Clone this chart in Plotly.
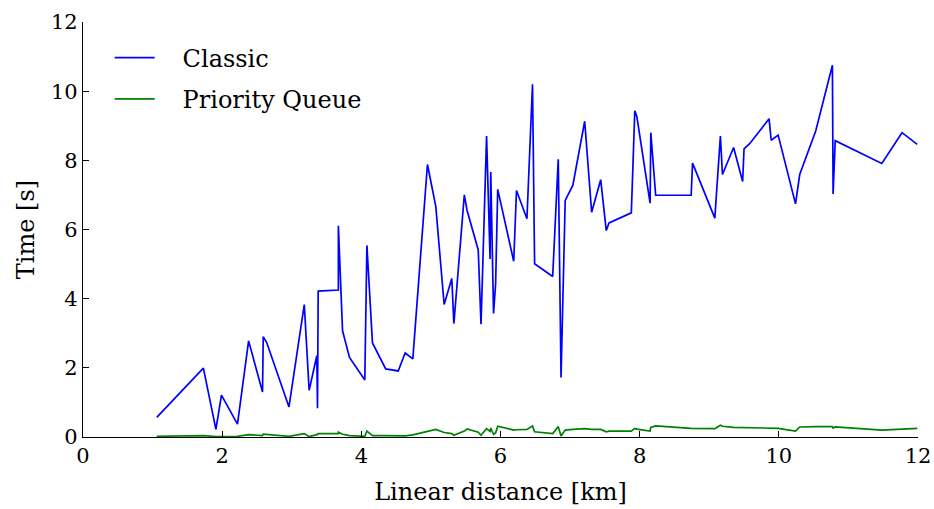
import plotly.graph_objects as go

# Linear distance of each query [km]
distance_km = [
    1.06, 1.73, 1.91, 1.99, 2.22, 2.38, 2.58, 2.59, 2.64, 2.96,
    3.18, 3.25, 3.36, 3.37, 3.38, 3.67, 3.67, 3.73, 3.83, 4.05,
    4.08, 4.16, 4.35, 4.53, 4.63, 4.74, 4.95, 5.07, 5.19, 5.30,
    5.33, 5.48, 5.52, 5.68, 5.72, 5.80, 5.85, 5.86, 5.90, 5.93,
    5.96, 6.19, 6.23, 6.38, 6.46, 6.49, 6.75, 6.83, 6.87, 6.93,
    7.04, 7.21, 7.31, 7.44, 7.52, 7.56, 7.88, 7.93, 7.96, 8.15,
    8.16, 8.23, 8.74, 8.76, 9.08, 9.16, 9.19, 9.35, 9.48, 9.50,
    9.58, 9.86, 9.89, 9.99, 10.24, 10.30, 10.53, 10.77, 10.78, 10.81,
    11.48, 11.77, 11.99,
]

# Run time of the classic implementation [s]
time_classic = [
    0.57, 1.99, 0.22, 1.21, 0.37, 2.78, 1.30, 2.90, 2.73, 0.87,
    3.83, 1.35, 2.35, 0.83, 4.22, 4.25, 6.11, 3.07, 2.30, 1.65,
    5.54, 2.72, 1.97, 1.91, 2.43, 2.26, 7.88, 6.67, 3.83, 4.58,
    3.28, 7.00, 6.55, 5.41, 3.26, 8.70, 5.15, 7.66, 3.57, 4.43,
    7.16, 5.08, 7.13, 6.31, 10.20, 5.01, 4.64, 8.03, 1.72, 6.84,
    7.28, 9.13, 6.50, 7.44, 5.97, 6.19, 6.48, 9.43, 9.26, 6.76,
    8.80, 6.99, 6.99, 7.92, 6.33, 8.70, 7.59, 8.37, 7.39, 8.33,
    8.48, 9.20, 8.58, 8.73, 6.74, 7.59, 8.85, 10.75, 7.03, 8.57,
    7.91, 8.80, 8.46,
]

# Run time of the priority-queue implementation [s]
time_priority_queue = [
    0.02, 0.04, 0.01, 0.01, 0.02, 0.07, 0.04, 0.08, 0.07, 0.02,
    0.10, 0.01, 0.07, 0.07, 0.10, 0.10, 0.14, 0.08, 0.04, 0.02,
    0.17, 0.04, 0.04, 0.03, 0.03, 0.06, 0.17, 0.22, 0.13, 0.10,
    0.05, 0.17, 0.23, 0.14, 0.05, 0.24, 0.16, 0.26, 0.08, 0.12,
    0.31, 0.20, 0.21, 0.22, 0.32, 0.15, 0.10, 0.30, 0.03, 0.20,
    0.22, 0.24, 0.22, 0.22, 0.15, 0.17, 0.17, 0.25, 0.23, 0.17,
    0.28, 0.32, 0.25, 0.25, 0.24, 0.34, 0.31, 0.28, 0.27, 0.27,
    0.27, 0.25, 0.24, 0.25, 0.17, 0.29, 0.30, 0.30, 0.26, 0.29,
    0.20, 0.22, 0.25,
]

x_ticks = [0, 2, 4, 6, 8, 10, 12]
y_ticks = [0, 2, 4, 6, 8, 10, 12]

FONT = "DejaVu Serif"
PAD = "\u00a0" * 3  # extra room between legend line and its label

fig = go.Figure()
fig.add_trace(go.Scatter(
    x=distance_km, y=time_classic, mode="lines", name=PAD + "Classic",
    line=dict(color="#0000ff", width=1.7), legendgroup="a",
))
fig.add_trace(go.Scatter(
    x=distance_km, y=time_priority_queue, mode="lines", name=PAD + "Priority Queue",
    line=dict(color="#008000", width=1.7), legendgroup="b",
))

axis_common = dict(
    showgrid=False, zeroline=False, showline=True, linecolor="black",
    linewidth=1.2, ticks="inside", ticklen=6, tickwidth=1, tickcolor="black",
    tickfont=dict(family=FONT, size=21, color="black"),
    mirror=False, automargin=False,
)

fig.update_xaxes(
    range=[0, 12], tickvals=x_ticks, ticktext=[str(v) for v in x_ticks],
    title=dict(text="Linear distance [km]", font=dict(family=FONT, size=24, color="black"), standoff=15),
    **axis_common,
)
fig.update_yaxes(
    range=[0, 12], tickvals=y_ticks, ticktext=[str(v) for v in y_ticks],
    title=dict(text="Time [s]", font=dict(family=FONT, size=24, color="black"), standoff=9),
    **axis_common,
)

fig.update_layout(
    width=934, height=509,
    margin=dict(l=83, r=16, t=22, b=72),
    paper_bgcolor="white", plot_bgcolor="white",
    font=dict(family=FONT, color="black"),
    showlegend=True,
    legend=dict(
        x=0.032, y=0.9675, xanchor="left", yanchor="top",
        bgcolor="rgba(0,0,0,0)", borderwidth=0,
        font=dict(family=FONT, size=24, color="black"),
        tracegroupgap=7, itemwidth=40,
    ),
)

fig.write_html("out.html")
